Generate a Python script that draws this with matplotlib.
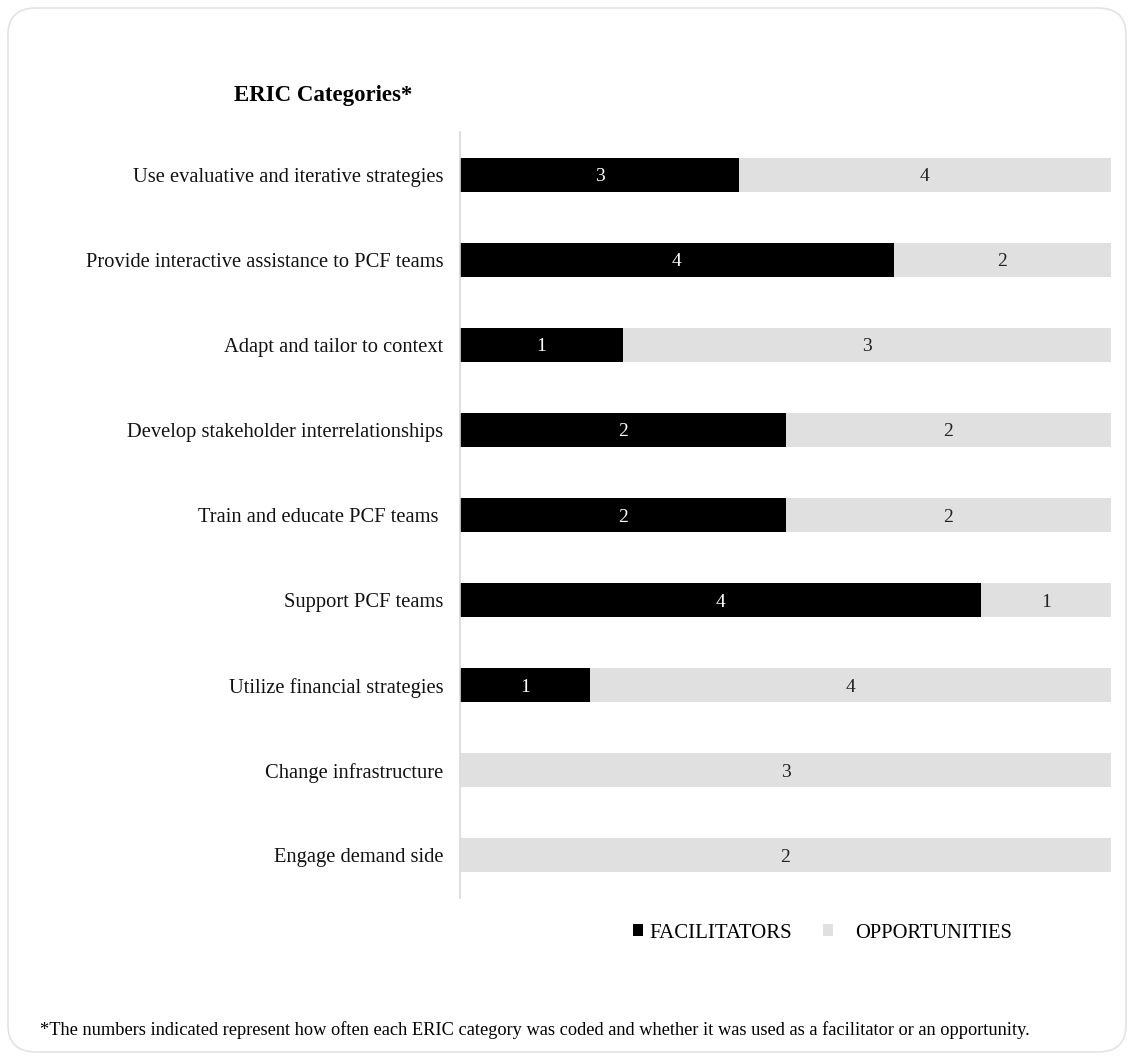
import matplotlib
matplotlib.use("Agg")
import matplotlib.pyplot as plt
from matplotlib.patches import FancyBboxPatch, Patch
import numpy as np

categories = [
    "Use evaluative and iterative strategies",
    "Provide interactive assistance to PCF teams",
    "Adapt and tailor to context",
    "Develop stakeholder interrelationships",
    "Train and educate PCF teams ",
    "Support PCF teams",
    "Utilize financial strategies",
    "Change infrastructure",
    "Engage demand side",
]
facilitators = [3, 4, 1, 2, 2, 4, 1, 0, 0]
opportunities = [4, 2, 3, 2, 2, 1, 4, 3, 2]
series_names = ["FACILITATORS", "OPPORTUNITIES"]

plt.rcParams['font.family'] = ['Liberation Serif', 'DejaVu Serif']

W, H = 1134, 1060
fig = plt.figure(figsize=(W / 100, H / 100), dpi=100)
border = FancyBboxPatch((8 / W, 8 / H), 1118 / W, 1044 / H,
                        boxstyle="round,pad=0,rounding_size=0.025",
                        transform=fig.transFigure, facecolor="none",
                        edgecolor="#e3e3e3", linewidth=1.2, zorder=-1)
fig.patches.append(border)

ax = fig.add_axes([460 / W, 1 - 898 / H, 651 / W, 766 / H])
ax.patch.set_alpha(0)

f = np.array(facilitators, dtype=float)
o = np.array(opportunities, dtype=float)
tot = f + o
fp = f / tot
op = o / tot
y = np.arange(len(categories))
h = 0.4
black = "#000000"
gray = "#e0e0e0"
ax.barh(y, fp, height=h, color=black, label=series_names[0])
ax.barh(y, op, left=fp, height=h, color=gray, label=series_names[1])

for i in range(len(categories)):
    if f[i] > 0:
        ax.text(fp[i] / 2, y[i], str(facilitators[i]), ha="center", va="center_baseline",
                color="white", fontsize=14)
    if o[i] > 0:
        ax.text(fp[i] + op[i] / 2, y[i], str(opportunities[i]), ha="center", va="center_baseline",
                color="#222222", fontsize=14)

ax.set_xlim(0, 1)
ax.set_ylim(len(categories) - 0.5, -0.5)
ax.set_yticks(y)
ax.set_yticklabels(categories, fontsize=14.8, color="#111111")
ax.tick_params(axis="y", length=0, pad=12)
ax.set_xticks([])
for s in ["top", "right", "bottom"]:
    ax.spines[s].set_visible(False)
ax.spines["left"].set_color("#d9d9d9")
ax.spines["left"].set_linewidth(1.2)

fig.text(323 / W, 1 - 95 / H, "ERIC Categories*", ha="center", va="center",
         fontsize=16.5, fontweight="bold")

leg1 = fig.legend([Patch(facecolor=black, edgecolor="none")], [series_names[0]],
                  loc="center left", bbox_to_anchor=(633 / W, 1 - 933 / H),
                  frameon=False, fontsize=15, handlelength=0.5, handleheight=0.5,
                  handletextpad=0.3, borderaxespad=0, borderpad=0)
leg2 = fig.legend([Patch(facecolor=gray, edgecolor="none")], [series_names[1]],
                  loc="center left", bbox_to_anchor=(823 / W, 1 - 933 / H),
                  frameon=False, fontsize=14.8, handlelength=0.5, handleheight=0.5,
                  handletextpad=1.05, borderaxespad=0, borderpad=0)

fig.text(40 / W, 1 - 1030 / H,
         "*The numbers indicated represent how often each ERIC category was coded and whether it was used as a facilitator or an opportunity.",
         ha="left", va="center", fontsize=13.2)

fig.savefig("out.png", dpi=100)
